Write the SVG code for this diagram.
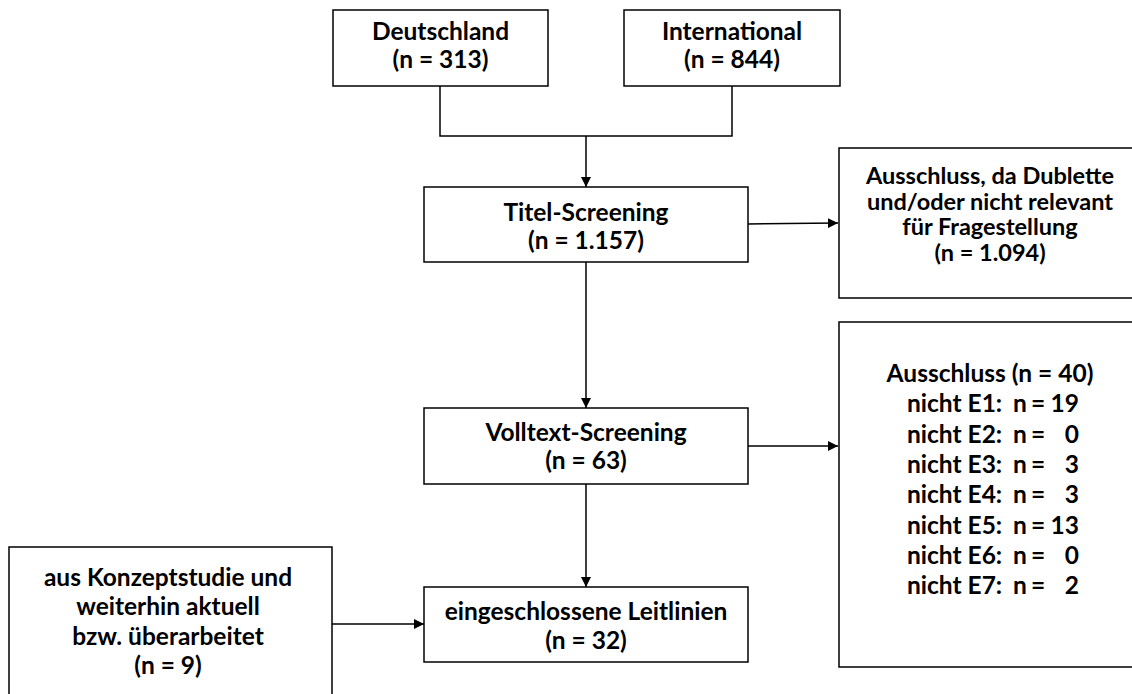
<svg xmlns="http://www.w3.org/2000/svg" width="1132" height="694" viewBox="0 0 1132 694">
<defs>
<marker id="ah" viewBox="0 0 10 10" refX="10" refY="5" markerWidth="10" markerHeight="10" markerUnits="userSpaceOnUse" orient="auto">
<path d="M0,0 L10,5 L0,10 Z" fill="#000"/>
</marker>
<style>
.box{fill:#fff;stroke:#000;stroke-width:1.5}
.t{font-family:Lato,"Liberation Sans",sans-serif;font-weight:bold;font-size:24.5px;fill:#000;text-anchor:middle}
.s{text-anchor:start}
.e{text-anchor:end}
.m{font-size:23.5px}
.c{fill:none;stroke:#000;stroke-width:1.5}
</style>
</defs>
<rect width="1132" height="694" fill="#fff"/>
<g id="connectors">
<path class="c" d="M440,86 V136 H732 V86"/>
<path class="c" d="M586,136 V187" marker-end="url(#ah)"/>
<path class="c" d="M748,224 L838,223" marker-end="url(#ah)"/>
<path class="c" d="M586,262 V408" marker-end="url(#ah)"/>
<path class="c" d="M748,446 H838" marker-end="url(#ah)"/>
<path class="c" d="M586,484 V587" marker-end="url(#ah)"/>
<path class="c" d="M332,624 H424" marker-end="url(#ah)"/>
</g>
<g id="deutschland">
<rect class="box" x="333" y="10" width="215" height="76"/>
<text class="t" x="440.5" y="40">Deutschland</text>
<text class="t" x="440.5" y="68">(n = 313)</text>
</g>
<g id="international">
<rect class="box" x="624" y="10" width="216" height="76"/>
<text class="t" x="732" y="40">International</text>
<text class="t" x="732" y="68">(n = 844)</text>
</g>
<g id="titel">
<rect class="box" x="424" y="187" width="324" height="75"/>
<text class="t" x="586" y="221">Titel-Screening</text>
<text class="t" x="586" y="249">(n = 1.157)</text>
</g>
<g id="ausschluss1">
<rect class="box" x="839" y="148" width="310" height="150"/>
<text class="t m" x="990" y="184">Ausschluss, da Dublette</text>
<text class="t m" x="990" y="209.5">und/oder nicht relevant</text>
<text class="t m" x="990" y="235">für Fragestellung</text>
<text class="t m" x="990" y="260.5">(n = 1.094)</text>
</g>
<g id="volltext">
<rect class="box" x="424" y="408" width="324" height="76"/>
<text class="t" x="586" y="441">Volltext-Screening</text>
<text class="t" x="586" y="469">(n = 63)</text>
</g>
<g id="ausschluss2">
<rect class="box" x="839" y="322" width="310" height="345"/>
<text class="t" x="990" y="382">Ausschluss (n = 40)</text>
<text class="t s" x="907" y="412.3">nicht E1:</text><text class="t s" x="1013" y="412.3">n</text><text class="t" x="1038" y="412.3">=</text><text class="t e" x="1079" y="412.3">19</text>
<text class="t s" x="907" y="442.6">nicht E2:</text><text class="t s" x="1013" y="442.6">n</text><text class="t" x="1038" y="442.6">=</text><text class="t e" x="1079" y="442.6">0</text>
<text class="t s" x="907" y="472.9">nicht E3:</text><text class="t s" x="1013" y="472.9">n</text><text class="t" x="1038" y="472.9">=</text><text class="t e" x="1079" y="472.9">3</text>
<text class="t s" x="907" y="503.2">nicht E4:</text><text class="t s" x="1013" y="503.2">n</text><text class="t" x="1038" y="503.2">=</text><text class="t e" x="1079" y="503.2">3</text>
<text class="t s" x="907" y="533.5">nicht E5:</text><text class="t s" x="1013" y="533.5">n</text><text class="t" x="1038" y="533.5">=</text><text class="t e" x="1079" y="533.5">13</text>
<text class="t s" x="907" y="563.8">nicht E6:</text><text class="t s" x="1013" y="563.8">n</text><text class="t" x="1038" y="563.8">=</text><text class="t e" x="1079" y="563.8">0</text>
<text class="t s" x="907" y="594.1">nicht E7:</text><text class="t s" x="1013" y="594.1">n</text><text class="t" x="1038" y="594.1">=</text><text class="t e" x="1079" y="594.1">2</text>
</g>
<g id="eingeschlossen">
<rect class="box" x="424" y="587" width="324" height="75"/>
<text class="t" x="586" y="620">eingeschlossene Leitlinien</text>
<text class="t" x="586" y="649">(n = 32)</text>
</g>
<g id="konzeptstudie">
<rect class="box" x="9" y="547" width="323" height="160"/>
<text class="t" x="168" y="586">aus Konzeptstudie und</text>
<text class="t" x="168" y="615">weiterhin aktuell</text>
<text class="t" x="168" y="645">bzw. überarbeitet</text>
<text class="t" x="168" y="674">(n = 9)</text>
</g>
</svg>
